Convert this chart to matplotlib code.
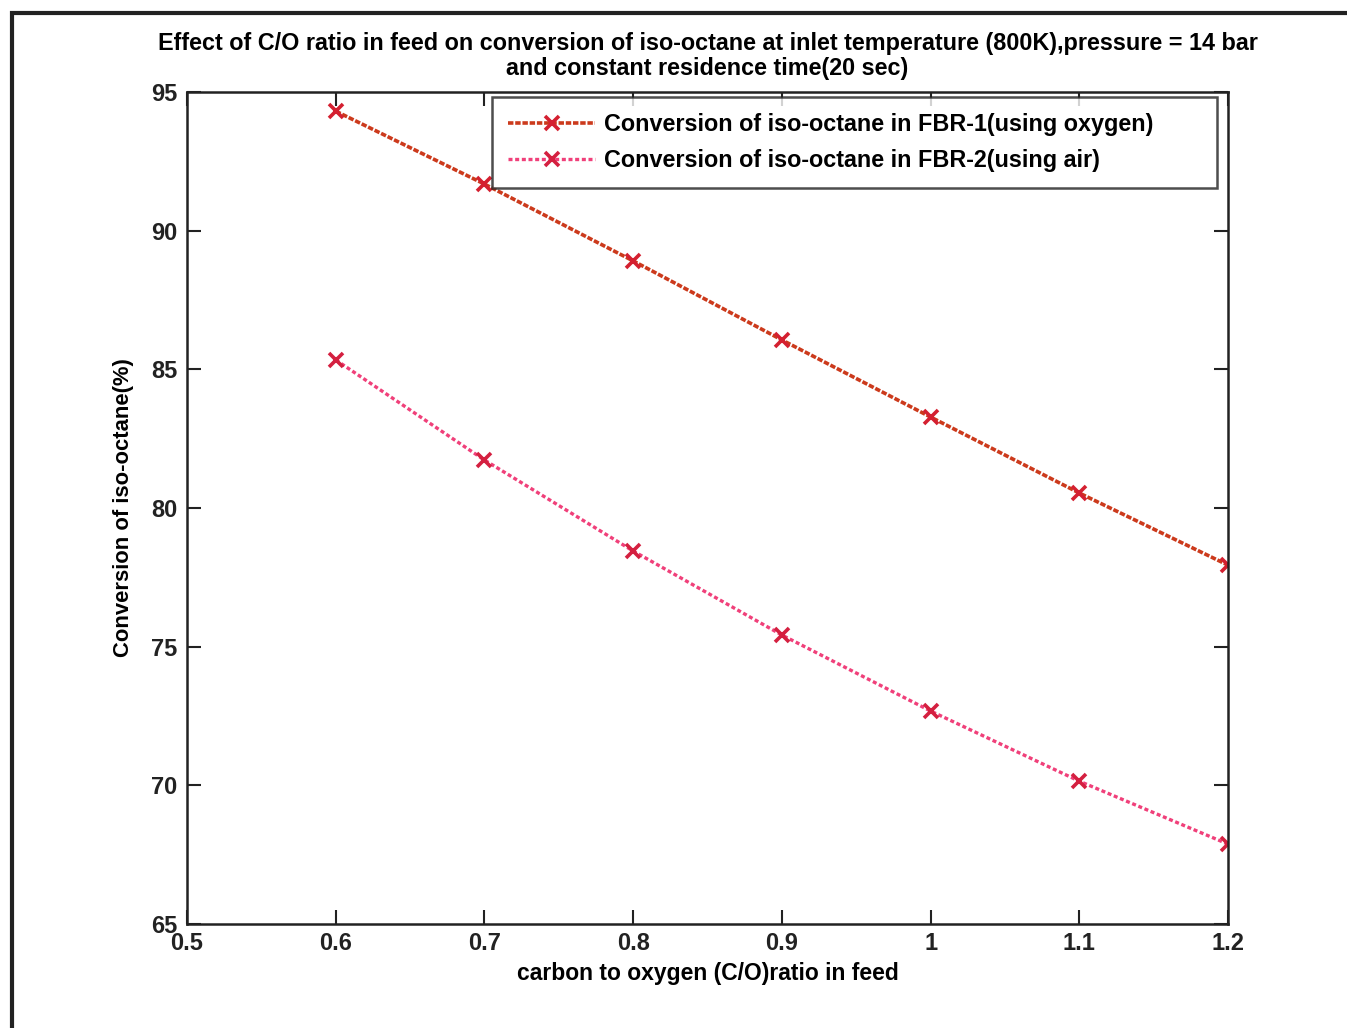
import matplotlib.pyplot as plt
from matplotlib.patches import Rectangle

# ---------------------------
# Data
# ---------------------------
co_ratio = [0.6, 0.7, 0.8, 0.9, 1.0, 1.1, 1.2]
conv_oxygen = [94.31, 91.68, 88.91, 86.06, 83.28, 80.54, 77.94]
conv_air = [85.34, 81.73, 78.45, 75.42, 72.68, 70.15, 67.88]

x_ticks = [0.5, 0.6, 0.7, 0.8, 0.9, 1.0, 1.1, 1.2]
x_labels = ["0.5", "0.6", "0.7", "0.8", "0.9", "1", "1.1", "1.2"]
y_ticks = [65, 70, 75, 80, 85, 90, 95]

plt.rcParams["font.family"] = ["Liberation Sans", "DejaVu Sans"]
plt.rcParams["font.weight"] = "bold"

fig = plt.figure(figsize=(13.47, 10.28), dpi=100)
ax = fig.add_axes([187 / 1347, 1 - 924 / 1028, (1228 - 187) / 1347, (924 - 92) / 1028])

ax.plot(co_ratio, conv_oxygen, color="#cc3a1c", linestyle=(0, (1.5, 0.5)), linewidth=2.6,
        marker="x", markersize=10, markeredgewidth=2.6, markeredgecolor="#d42030",
        label="Conversion of iso-octane in FBR-1(using oxygen)")
ax.plot(co_ratio, conv_air, color="#f0407a", linestyle=(0, (1.2, 0.8)), linewidth=2.4,
        marker="x", markersize=10, markeredgewidth=2.6, markeredgecolor="#d42040",
        label="Conversion of iso-octane in FBR-2(using air)")

ax.set_xlim(0.5, 1.2)
ax.set_ylim(65, 95)
ax.set_xticks(x_ticks)
ax.set_xticklabels(x_labels)
ax.set_yticks(y_ticks)
ax.tick_params(direction="in", length=10, width=1.5, top=True, right=True,
               labelsize=17, colors="#222222")
ax.tick_params(axis="x", pad=6)
ax.tick_params(axis="y", pad=7)
for lbl in ax.get_xticklabels() + ax.get_yticklabels():
    lbl.set_fontweight("bold")
for s in ax.spines.values():
    s.set_linewidth(1.8)
    s.set_color("#222222")

ax.set_xlabel("carbon to oxygen (C/O)ratio in feed", fontsize=16.5, fontweight="bold", labelpad=5)
ax.set_ylabel("Conversion of iso-octane(%)", fontsize=15.8, fontweight="bold", labelpad=12)
ax.set_title("Effect of C/O ratio in feed on conversion of iso-octane at inlet temperature (800K),pressure = 14 bar\n"
             "and constant residence time(20 sec)", fontsize=16.8, fontweight="bold", pad=12, linespacing=1.15)

# matlab-style legend: wide box, entries to the left
leg = ax.legend(loc="upper left", mode="expand", fontsize=16.8, frameon=True, fancybox=False,
                handlelength=3.7, handletextpad=0.4, borderpad=0.7, labelspacing=0.55, borderaxespad=0,
                bbox_to_anchor=(0.293, 0.899, 0.9894 - 0.293, 0.994 - 0.899))
leg.get_frame().set_edgecolor("#222222")
leg.get_frame().set_linewidth(1.8)
for t in leg.get_texts():
    t.set_fontweight("bold")

# outer frame of the figure
fig.patches.append(Rectangle((12 / 1347, -0.05), 1.2, 1 - 13 / 1028 + 0.05, transform=fig.transFigure,
                             fill=False, edgecolor="#222222", linewidth=3))

fig.savefig("out.png", dpi=100)
